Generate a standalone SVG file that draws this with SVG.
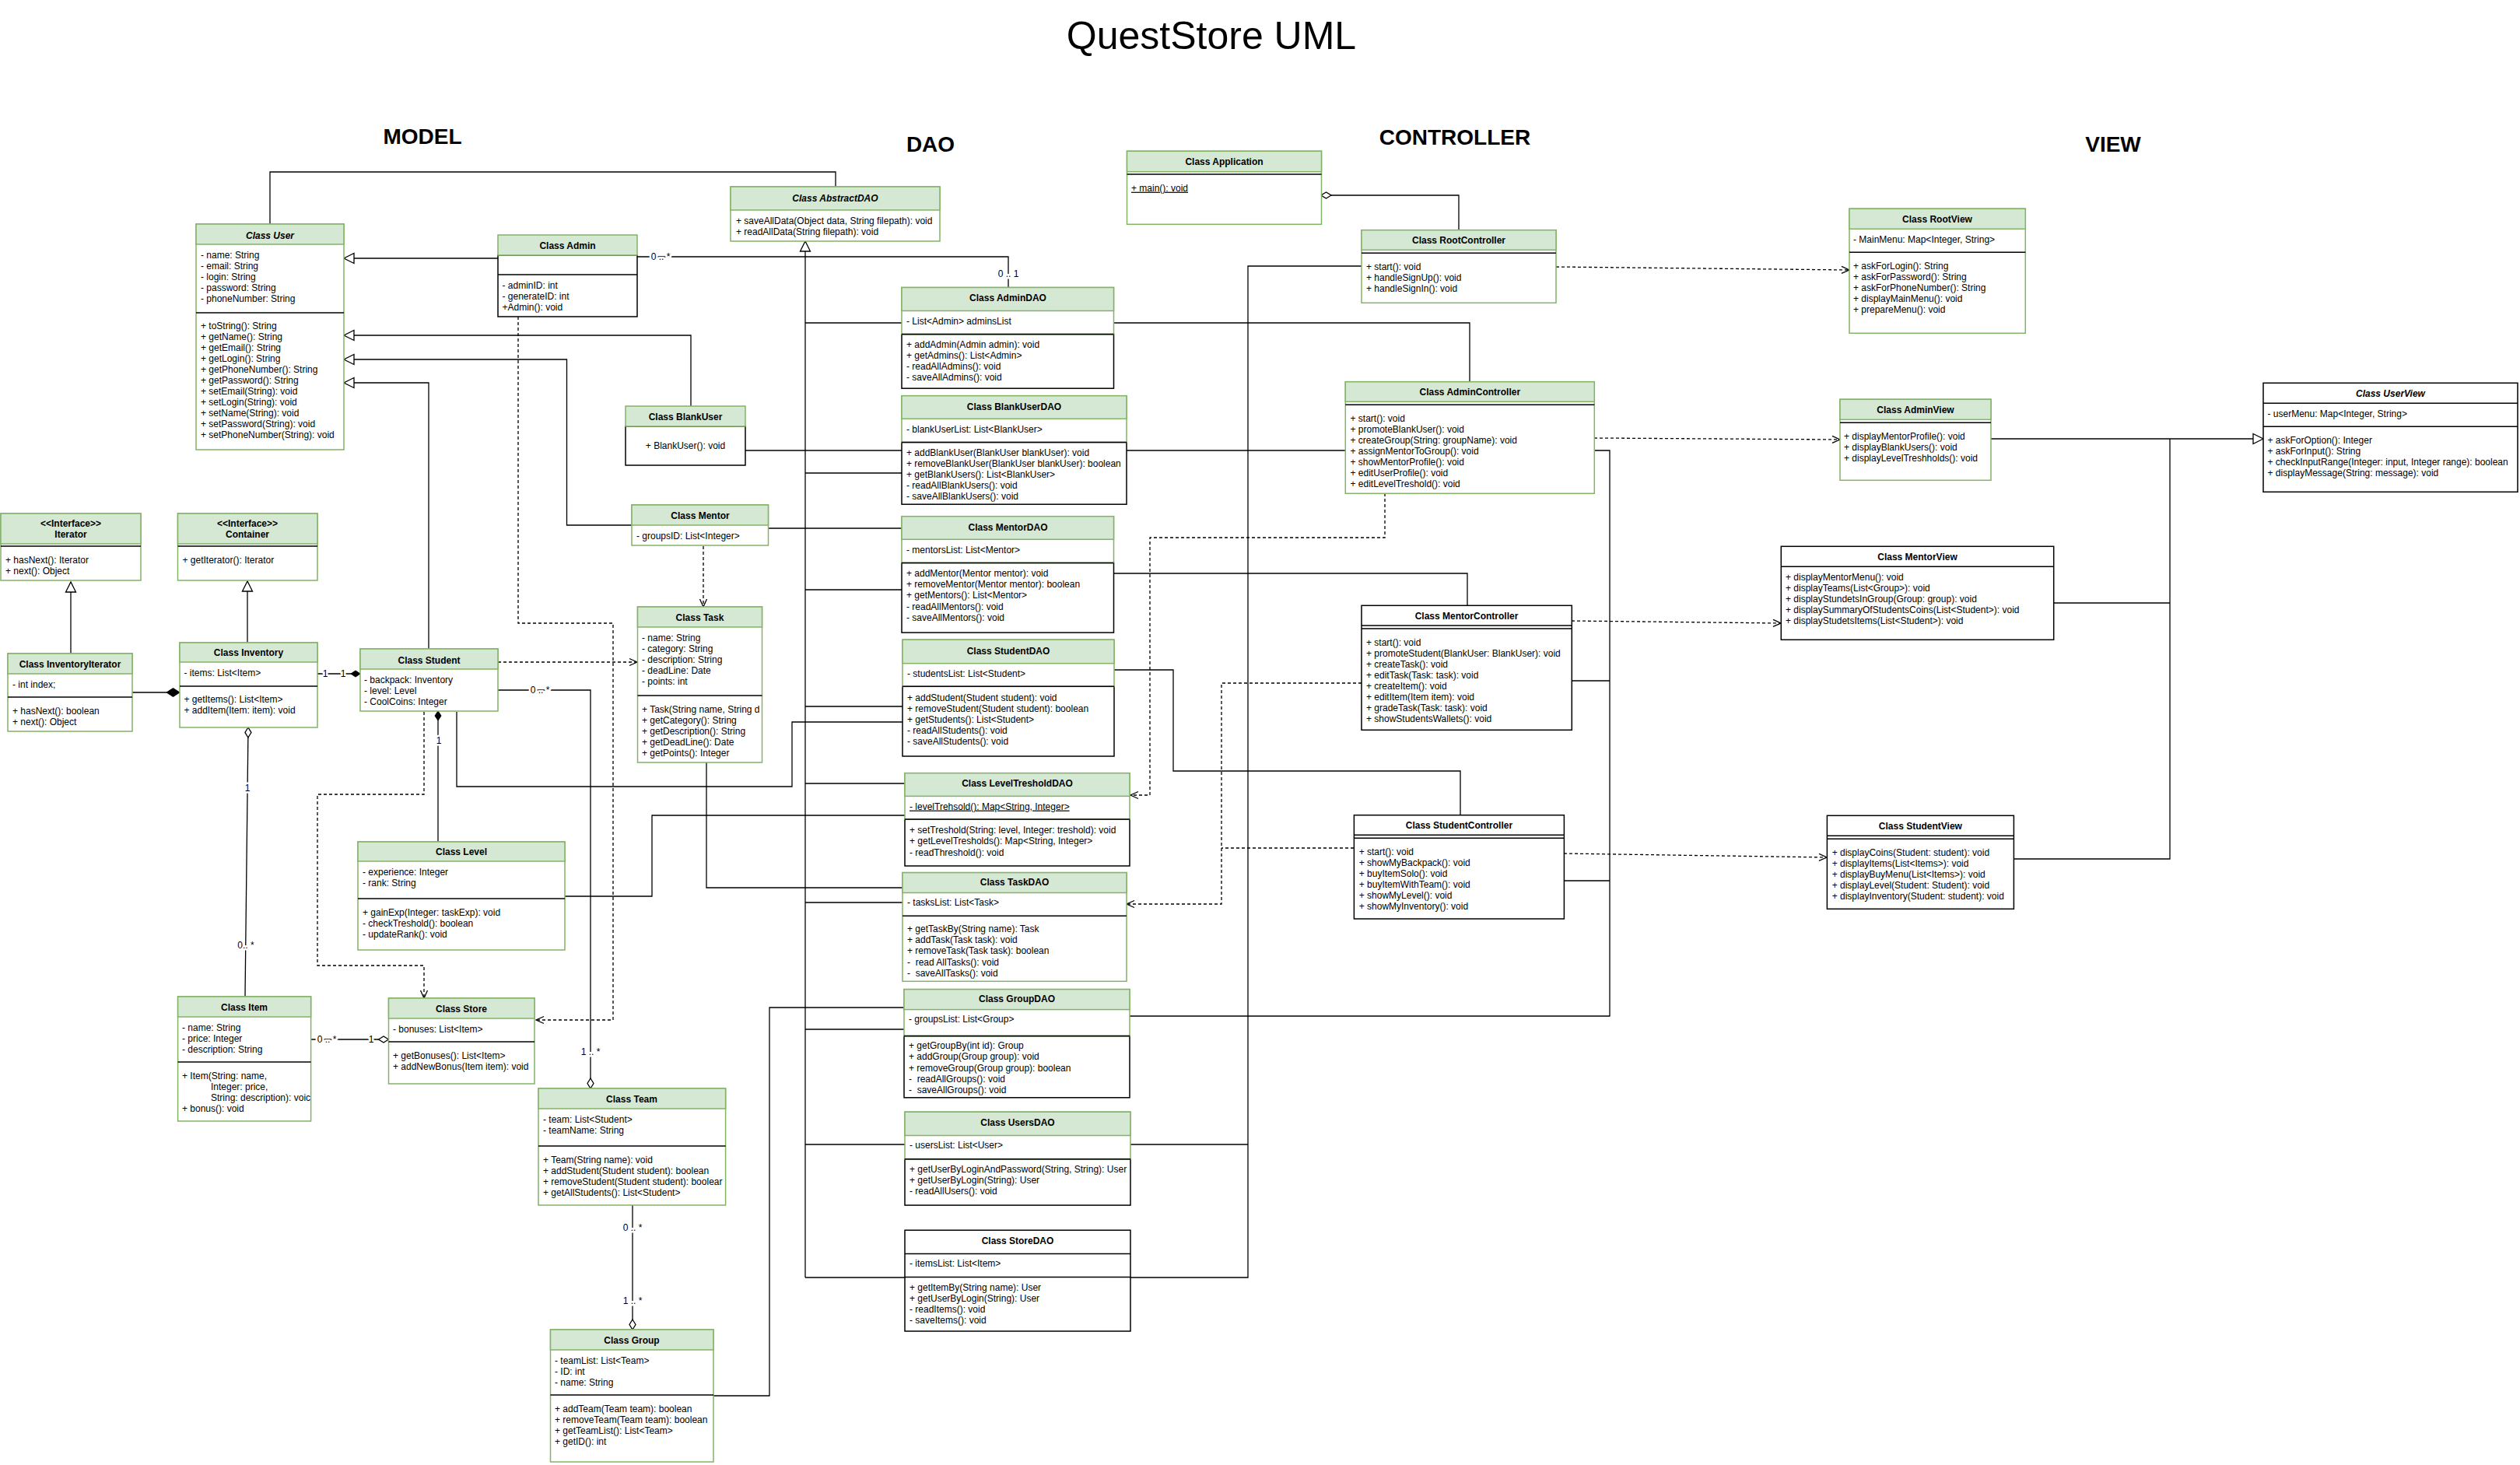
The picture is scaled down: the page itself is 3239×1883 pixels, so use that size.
<svg xmlns="http://www.w3.org/2000/svg" width="3239" height="1883" viewBox="0 0 3239 1883">
<style>
.h{fill:#d5e8d4;stroke:#82b366;stroke-width:1.5}
.g{fill:#fff;stroke:#82b366;stroke-width:1.5}
.k{fill:#fff;stroke:#000;stroke-width:1.5}
.d{stroke:#000;stroke-width:1.5}
text{font-family:"Liberation Sans",Arial,sans-serif;font-size:12px;fill:#000}
.t{font-weight:bold;text-anchor:middle}
.ti{font-weight:bold;font-style:italic;text-anchor:middle}
.c{text-anchor:middle}
.u{text-decoration:underline}
.e{fill:none;stroke:#000;stroke-width:1.3}
.dh{stroke-dasharray:4 3}
.l{text-anchor:middle;stroke:#fff;stroke-width:5;paint-order:stroke;stroke-linejoin:round}
.sec{font-size:28px;font-weight:bold;text-anchor:middle}
</style>
<defs>
<marker id="tri" markerUnits="userSpaceOnUse" markerWidth="16" markerHeight="16" viewBox="0 -8 16 16" refX="14" refY="0" orient="auto-start-reverse"><path d="M1,-6.5 L14,0 L1,6.5 z" fill="#fff" stroke="#000" stroke-width="1.3"/></marker>
<marker id="arr" markerUnits="userSpaceOnUse" markerWidth="12" markerHeight="12" viewBox="0 -6 12 12" refX="11" refY="0" orient="auto-start-reverse"><path d="M1,-4.5 L11,0 L1,4.5" fill="none" stroke="#000" stroke-width="1.3"/></marker>
<marker id="dF" markerUnits="userSpaceOnUse" markerWidth="19" markerHeight="14" viewBox="0 -7 19 14" refX="18" refY="0" orient="auto-start-reverse"><path d="M1,0 L9.5,-5.5 L18,0 L9.5,5.5 z" fill="#000" stroke="#000" stroke-width="1"/></marker>
<marker id="dFs" markerUnits="userSpaceOnUse" markerWidth="14" markerHeight="12" viewBox="0 -6 14 12" refX="13" refY="0" orient="auto-start-reverse"><path d="M1,0 L7,-4 L13,0 L7,4 z" fill="#000" stroke="#000" stroke-width="1"/></marker>
<marker id="dO" markerUnits="userSpaceOnUse" markerWidth="15" markerHeight="12" viewBox="0 -6 15 12" refX="14" refY="0" orient="auto-start-reverse"><path d="M1,0 L7.5,-4 L14,0 L7.5,4 z" fill="#fff" stroke="#000" stroke-width="1.3"/></marker>
</defs>
<rect x="0" y="0" width="3239" height="1883" fill="#fff"/>

<g id="titles">
<text x="1557" y="63" style="font-size:50px;text-anchor:middle">QuestStore UML</text>
<text class="sec" x="543" y="185">MODEL</text>
<text class="sec" x="1196" y="195">DAO</text>
<text class="sec" x="1870" y="186">CONTROLLER</text>
<text class="sec" x="2716" y="195">VIEW</text>
</g>

<g id="connectors">
<path class="e" d="M347,288 V221 H1074 V240"/>
<path class="e" d="M640,332 H442" marker-end="url(#tri)"/>
<path class="e" d="M819,330 H1296 V369.5"/>
<path class="e" d="M888,522 V431 H442" marker-end="url(#tri)"/>
<path class="e" d="M812,675 H728.5 V462 H442" marker-end="url(#tri)"/>
<path class="e" d="M551,834 V492 H442" marker-end="url(#tri)"/>
<path class="e" d="M91,840 V748" marker-end="url(#tri)"/>
<path class="e" d="M318,826 V747" marker-end="url(#tri)"/>
<path class="e" d="M170,890 H231" marker-end="url(#dF)"/>
<path class="e" d="M408,866 H463" marker-end="url(#dFs)"/>
<path class="e" d="M319,935 L315,1281" marker-start="url(#dO)"/>
<path class="e" d="M563,914 V1082" marker-start="url(#dFs)"/>
<path class="e dh" d="M640,851 H819" marker-end="url(#arr)"/>
<path class="e dh" d="M666,407 V801 H788 V1311 H689" marker-end="url(#arr)"/>
<path class="e dh" d="M904,702 V780" marker-end="url(#arr)"/>
<path class="e dh" d="M545,915 V1021 H408 V1241 H545 V1283" marker-end="url(#arr)"/>
<path class="e" d="M640,887 H759 V1399" marker-end="url(#dO)"/>
<path class="e" d="M587,915 V1011 H1018 V928 H1160"/>
<path class="e" d="M726,1152 H838 V1048 H1163"/>
<path class="e" d="M908,980 V1141 H1160"/>
<path class="e" d="M917,1794 H989 V1295 H1162"/>
<path class="e" d="M813,1549 V1709" marker-end="url(#dO)"/>
<path class="e" d="M400,1336 H499.5" marker-end="url(#dO)"/>
<path class="e" d="M1035,1642 V310" marker-end="url(#tri)"/>
<path class="e" d="M1035,1642 H1163 M1035,415 H1159 M1035,608 H1159 M1035,758 H1159 M1035,908 H1160 M1035,1007 H1163 M1035,1160 H1160 M1035,1323 H1162 M1035,1471 H1163"/>
<path class="e" d="M958,579 H1159"/>
<path class="e" d="M988,679 H1159"/>
<path class="e" d="M1432,415 H1889 V491"/>
<path class="e" d="M1448,579 H1729"/>
<path class="e" d="M1432,737 H1886 V778"/>
<path class="e" d="M1432,861 H1508 V991 H1877 V1048"/>
<path class="e" d="M1453,1642 H1604 V342 H1750"/>
<path class="e" d="M1453,1471 H1604"/>
<path class="e dh" d="M1780,634 V691 H1478 V1022 H1453" marker-end="url(#arr)"/>
<path class="e dh" d="M1750,878 H1570 V1162 H1448" marker-end="url(#arr)"/>
<path class="e dh" d="M1740,1090 H1570"/>
<path class="e" d="M1698,251 H1875 V296" marker-start="url(#dO)"/>
<path class="e dh" d="M2000,343 L2377,347" marker-end="url(#arr)"/>
<path class="e dh" d="M2049,563 L2365,565" marker-end="url(#arr)"/>
<path class="e dh" d="M2020,798 L2289,801" marker-end="url(#arr)"/>
<path class="e dh" d="M2010,1097 L2348,1102" marker-end="url(#arr)"/>
<path class="e" d="M2049,579 H2069 V1306 H1452 M2020,875 H2069 M2010,1132 H2069"/>
<path class="e" d="M2559,564 H2909" marker-end="url(#tri)"/>
<path class="e" d="M2640,775 H2789 M2588,1104 H2789 V564"/>
<text class="l" x="849" y="334">0 .. *</text>
<text class="l" x="1296" y="356">0 .. 1</text>
<text class="l" x="418" y="870">1</text>
<text class="l" x="441" y="870">1</text>
<text class="l" x="318" y="1017">1</text>
<text class="l" x="316" y="1219">0.. *</text>
<text class="l" x="564" y="956">1</text>
<text class="l" x="694" y="891">0 .. *</text>
<text class="l" x="759" y="1356">1 .. *</text>
<text class="l" x="813" y="1582">0 .. *</text>
<text class="l" x="813" y="1676">1 .. *</text>
<text class="l" x="420" y="1340">0 .. *</text>
<text class="l" x="477" y="1340">1</text>
</g>

<g id="user">
<rect class="g" x="252" y="288" width="190" height="290"/>
<rect class="h" x="252" y="288" width="190" height="26"/>
<text class="ti" x="347" y="307">Class User</text>
<line class="d" x1="252" y1="402" x2="442" y2="402"/>
<text x="258" y="332"><tspan x="258">- name: String</tspan><tspan x="258" dy="14">- email: String</tspan><tspan x="258" dy="14">- login: String</tspan><tspan x="258" dy="14">- password: String</tspan><tspan x="258" dy="14">- phoneNumber: String</tspan></text>
<text x="258" y="423"><tspan x="258">+ toString(): String</tspan><tspan x="258" dy="14">+ getName(): String</tspan><tspan x="258" dy="14">+ getEmail(): String</tspan><tspan x="258" dy="14">+ getLogin(): String</tspan><tspan x="258" dy="14">+ getPhoneNumber(): String</tspan><tspan x="258" dy="14">+ getPassword(): String</tspan><tspan x="258" dy="14">+ setEmail(String): void</tspan><tspan x="258" dy="14">+ setLogin(String): void</tspan><tspan x="258" dy="14">+ setName(String): void</tspan><tspan x="258" dy="14">+ setPassword(String): void</tspan><tspan x="258" dy="14">+ setPhoneNumber(String): void</tspan></text>
</g>

<g id="admin">
<rect class="k" x="640" y="328" width="179" height="79"/>
<rect class="h" x="640" y="302" width="179" height="26"/>
<text class="t" x="729.5" y="320">Class Admin</text>
<line class="d" x1="640" y1="353" x2="819" y2="353"/>
<text x="645.5" y="371"><tspan x="645.5">- adminID: int</tspan><tspan x="645.5" dy="14">- generateID: int</tspan><tspan x="645.5" dy="14">+Admin(): void</tspan></text>
</g>

<g id="abstractdao">
<rect class="g" x="939" y="240" width="269" height="70"/>
<rect class="h" x="939" y="240" width="269" height="30"/>
<text class="ti" x="1073.5" y="259">Class AbstractDAO</text>
<text x="946" y="288"><tspan x="946">+ saveAllData(Object data, String filepath): void</tspan><tspan x="946" dy="14">+ readAllData(String filepath): void</tspan></text>
</g>

<g id="blankuser">
<rect class="k" x="804" y="548" width="154" height="50"/>
<rect class="h" x="804" y="522" width="154" height="26"/>
<text class="t" x="881" y="540">Class BlankUser</text>
<text class="c" x="881" y="577">+ BlankUser(): void</text>
</g>

<g id="iterator">
<rect class="g" x="1" y="660" width="180" height="86"/>
<rect class="h" x="1" y="660" width="180" height="39"/>
<text class="t" x="91" y="677"><tspan x="91">&lt;&lt;Interface&gt;&gt;</tspan><tspan x="91" dy="14">Iterator</tspan></text>
<line class="d" x1="1" y1="702" x2="181" y2="702"/>
<text x="7" y="724"><tspan x="7">+ hasNext(): Iterator</tspan><tspan x="7" dy="14">+ next(): Object</tspan></text>
</g>

<g id="container">
<rect class="g" x="228.5" y="660" width="179.5" height="86"/>
<rect class="h" x="228.5" y="660" width="179.5" height="39"/>
<text class="t" x="318" y="677"><tspan x="318">&lt;&lt;Interface&gt;&gt;</tspan><tspan x="318" dy="14">Container</tspan></text>
<line class="d" x1="228.5" y1="702" x2="408" y2="702"/>
<text x="234.5" y="724">+ getIterator(): Iterator</text>
</g>

<g id="inventoryiterator">
<rect class="g" x="10" y="840" width="160" height="100"/>
<rect class="h" x="10" y="840" width="160" height="26"/>
<text class="t" x="90" y="858">Class InventoryIterator</text>
<text x="16" y="884">- int index;</text>
<line class="d" x1="10" y1="896" x2="170" y2="896"/>
<text x="16" y="918"><tspan x="16">+ hasNext(): boolean</tspan><tspan x="16" dy="14">+ next(): Object</tspan></text>
</g>

<g id="inventory">
<rect class="g" x="231" y="826" width="177" height="109"/>
<rect class="h" x="231" y="826" width="177" height="25"/>
<text class="t" x="319.5" y="843">Class Inventory</text>
<text x="236.5" y="869">- items: List&lt;Item&gt;</text>
<line class="d" x1="231" y1="882" x2="408" y2="882"/>
<text x="236.5" y="903"><tspan x="236.5">+ getItems(): List&lt;Item&gt;</tspan><tspan x="236.5" dy="14">+ addItem(Item: item): void</tspan></text>
</g>

<g id="student">
<rect class="g" x="463" y="834" width="177" height="80"/>
<rect class="h" x="463" y="834" width="177" height="26"/>
<text class="t" x="551.5" y="853">Class Student</text>
<text x="468" y="878"><tspan x="468">- backpack: Inventory</tspan><tspan x="468" dy="14">- level: Level</tspan><tspan x="468" dy="14">- CoolCoins: Integer</tspan></text>
</g>

<g id="mentor">
<rect class="g" x="812" y="649" width="175.5" height="52"/>
<rect class="h" x="812" y="649" width="175.5" height="26"/>
<text class="t" x="900" y="667">Class Mentor</text>
<text x="818" y="693">- groupsID: List&lt;Integer&gt;</text>
</g>

<g id="task">
<rect class="g" x="819.5" y="780" width="160" height="200"/>
<rect class="h" x="819.5" y="780" width="160" height="26"/>
<text class="t" x="899.5" y="798">Class Task</text>
<text x="825" y="824"><tspan x="825">- name: String</tspan><tspan x="825" dy="14">- category: String</tspan><tspan x="825" dy="14">- description: String</tspan><tspan x="825" dy="14">- deadLine: Date</tspan><tspan x="825" dy="14">- points: int</tspan></text>
<line class="d" x1="819.5" y1="894" x2="979.5" y2="894"/>
<text x="825" y="916"><tspan x="825">+ Task(String name, String d</tspan><tspan x="825" dy="14">+ getCategory(): String</tspan><tspan x="825" dy="14">+ getDescription(): String</tspan><tspan x="825" dy="14">+ getDeadLine(): Date</tspan><tspan x="825" dy="14">+ getPoints(): Integer</tspan></text>
</g>

<g id="level">
<rect class="g" x="460" y="1082" width="266" height="139"/>
<rect class="h" x="460" y="1082" width="266" height="25"/>
<text class="t" x="593" y="1099">Class Level</text>
<text x="466" y="1125"><tspan x="466">- experience: Integer</tspan><tspan x="466" dy="14">- rank: String</tspan></text>
<line class="d" x1="460" y1="1155" x2="726" y2="1155"/>
<text x="466" y="1177"><tspan x="466">+ gainExp(Integer: taskExp): void</tspan><tspan x="466" dy="14">- checkTreshold(): boolean</tspan><tspan x="466" dy="14">- updateRank(): void</tspan></text>
</g>

<g id="item">
<rect class="g" x="228.6" y="1281" width="171" height="160"/>
<rect class="h" x="228.6" y="1281" width="171" height="26"/>
<text class="t" x="314" y="1299">Class Item</text>
<text x="234" y="1325"><tspan x="234">- name: String</tspan><tspan x="234" dy="14">- price: Integer</tspan><tspan x="234" dy="14">- description: String</tspan></text>
<line class="d" x1="228.6" y1="1365" x2="399.6" y2="1365"/>
<text x="234" y="1387"><tspan x="234">+ Item(String: name,</tspan><tspan x="271" dy="14">Integer: price,</tspan><tspan x="271" dy="14">String: description): voic</tspan><tspan x="234" dy="14">+ bonus(): void</tspan></text>
</g>

<g id="store">
<rect class="g" x="499.5" y="1283" width="187.5" height="110"/>
<rect class="h" x="499.5" y="1283" width="187.5" height="26"/>
<text class="t" x="593" y="1301">Class Store</text>
<text x="505" y="1327">- bonuses: List&lt;Item&gt;</text>
<line class="d" x1="499.5" y1="1339" x2="687" y2="1339"/>
<text x="505" y="1361"><tspan x="505">+ getBonuses(): List&lt;Item&gt;</tspan><tspan x="505" dy="14">+ addNewBonus(Item item): void</tspan></text>
</g>

<g id="team">
<rect class="g" x="692" y="1399" width="240.6" height="150"/>
<rect class="h" x="692" y="1399" width="240.6" height="26"/>
<text class="t" x="812" y="1417">Class Team</text>
<text x="698" y="1443"><tspan x="698">- team: List&lt;Student&gt;</tspan><tspan x="698" dy="14">- teamName: String</tspan></text>
<line class="d" x1="692" y1="1473" x2="932.6" y2="1473"/>
<text x="698" y="1495"><tspan x="698">+ Team(String name): void</tspan><tspan x="698" dy="14">+ addStudent(Student student): boolean</tspan><tspan x="698" dy="14">+ removeStudent(Student student): boolear</tspan><tspan x="698" dy="14">+ getAllStudents(): List&lt;Student&gt;</tspan></text>
</g>

<g id="group">
<rect class="g" x="707.5" y="1709" width="209.5" height="170"/>
<rect class="h" x="707.5" y="1709" width="209.5" height="26"/>
<text class="t" x="812" y="1727">Class Group</text>
<text x="713" y="1753"><tspan x="713">- teamList: List&lt;Team&gt;</tspan><tspan x="713" dy="14">- ID: int</tspan><tspan x="713" dy="14">- name: String</tspan></text>
<line class="d" x1="707.5" y1="1793" x2="917" y2="1793"/>
<text x="713" y="1815"><tspan x="713">+ addTeam(Team team): boolean</tspan><tspan x="713" dy="14">+ removeTeam(Team team): boolean</tspan><tspan x="713" dy="14">+ getTeamList(): List&lt;Team&gt;</tspan><tspan x="713" dy="14">+ getID(): int</tspan></text>
</g>

<g id="admindao">
<rect class="k" x="1159" y="429.6" width="272.5" height="69.6"/>
<rect class="g" x="1159" y="369.5" width="272.5" height="60.1"/>
<rect class="h" x="1159" y="369.5" width="272.5" height="30"/>
<line class="d" x1="1159" y1="429.6" x2="1431.5" y2="429.6"/>
<text class="t" x="1295.5" y="387">Class AdminDAO</text>
<text x="1165" y="416.6">- List&lt;Admin&gt; adminsList</text>
<text x="1165" y="447.4"><tspan x="1165">+ addAdmin(Admin admin): void</tspan><tspan x="1165" dy="14">+ getAdmins(): List&lt;Admin&gt;</tspan><tspan x="1165" dy="14">- readAllAdmins(): void</tspan><tspan x="1165" dy="14">- saveAllAdmins(): void</tspan></text>
</g>

<g id="blankuserdao">
<rect class="k" x="1159" y="568.4" width="289" height="79.8"/>
<rect class="g" x="1159" y="508.7" width="289" height="59.7"/>
<rect class="h" x="1159" y="508.7" width="289" height="29.6"/>
<line class="d" x1="1159" y1="568.4" x2="1448" y2="568.4"/>
<text class="t" x="1303.5" y="526.5">Class BlankUserDAO</text>
<text x="1165" y="555.8">- blankUserList: List&lt;BlankUser&gt;</text>
<text x="1165" y="586.2"><tspan x="1165">+ addBlankUser(BlankUser blankUser): void</tspan><tspan x="1165" dy="14">+ removeBlankUser(BlankUser blankUser): boolean</tspan><tspan x="1165" dy="14">+ getBlankUsers(): List&lt;BlankUser&gt;</tspan><tspan x="1165" dy="14">- readAllBlankUsers(): void</tspan><tspan x="1165" dy="14">- saveAllBlankUsers(): void</tspan></text>
</g>

<g id="mentordao">
<rect class="k" x="1159" y="723.4" width="272.5" height="89.7"/>
<rect class="g" x="1159" y="663.7" width="272.5" height="59.7"/>
<rect class="h" x="1159" y="663.7" width="272.5" height="29.6"/>
<line class="d" x1="1159" y1="723.4" x2="1431.5" y2="723.4"/>
<text class="t" x="1295.5" y="681.5">Class MentorDAO</text>
<text x="1165" y="710.8">- mentorsList: List&lt;Mentor&gt;</text>
<text x="1165" y="741.2"><tspan x="1165">+ addMentor(Mentor mentor): void</tspan><tspan x="1165" dy="14.1">+ removeMentor(Mentor mentor): boolean</tspan><tspan x="1165" dy="14.1">+ getMentors(): List&lt;Mentor&gt;</tspan><tspan x="1165" dy="14.1">- readAllMentors(): void</tspan><tspan x="1165" dy="14.1">- saveAllMentors(): void</tspan></text>
</g>

<g id="studentdao">
<rect class="k" x="1160" y="882.3" width="272" height="89.7"/>
<rect class="g" x="1160" y="822.2" width="272" height="60.1"/>
<rect class="h" x="1160" y="822.2" width="272" height="30.5"/>
<line class="d" x1="1160" y1="882.3" x2="1432" y2="882.3"/>
<text class="t" x="1296" y="840.5">Class StudentDAO</text>
<text x="1166" y="869.7">- studentsList: List&lt;Student&gt;</text>
<text x="1166" y="900.6"><tspan x="1166">+ addStudent(Student student): void</tspan><tspan x="1166" dy="14">+ removeStudent(Student student): boolean</tspan><tspan x="1166" dy="14">+ getStudents(): List&lt;Student&gt;</tspan><tspan x="1166" dy="14">- readAllStudents(): void</tspan><tspan x="1166" dy="14">- saveAllStudents(): void</tspan></text>
</g>

<g id="leveltresholddao">
<rect class="k" x="1163" y="1053.1" width="289" height="59.9"/>
<rect class="g" x="1163" y="993.7" width="289" height="59.4"/>
<rect class="h" x="1163" y="993.7" width="289" height="29.7"/>
<line class="d" x1="1163" y1="1053.1" x2="1452" y2="1053.1"/>
<text class="t" x="1307.5" y="1011.4">Class LevelTresholdDAO</text>
<text class="u" x="1169" y="1040.6">- levelTrehsold(): Map&lt;String, Integer&gt;</text>
<text x="1169" y="1071.3"><tspan x="1169">+ setTreshold(String: level, Integer: treshold): void</tspan><tspan x="1169" dy="14.1">+ getLevelTresholds(): Map&lt;String, Integer&gt;</tspan><tspan x="1169" dy="14.1">- readThreshold(): void</tspan></text>
</g>

<g id="taskdao">
<rect class="g" x="1160" y="1121.6" width="288" height="139.7"/>
<rect class="h" x="1160" y="1121.6" width="288" height="25.9"/>
<line class="d" x1="1160" y1="1177.3" x2="1448" y2="1177.3"/>
<text class="t" x="1304" y="1138.3">Class TaskDAO</text>
<text x="1166" y="1164.3">- tasksList: List&lt;Task&gt;</text>
<text x="1166" y="1198.2"><tspan x="1166">+ getTaskBy(String name): Task</tspan><tspan x="1166" dy="14.1">+ addTask(Task task): void</tspan><tspan x="1166" dy="14.1">+ removeTask(Task task): boolean</tspan><tspan x="1166" dy="14.1" xml:space="preserve">-  read AllTasks(): void</tspan><tspan x="1166" dy="14.1" xml:space="preserve">-  saveAllTasks(): void</tspan></text>
</g>

<g id="groupdao">
<rect class="k" x="1162" y="1331.6" width="290" height="79.2"/>
<rect class="g" x="1162" y="1271.6" width="290" height="60"/>
<rect class="h" x="1162" y="1271.6" width="290" height="26"/>
<line class="d" x1="1162" y1="1331.6" x2="1452" y2="1331.6"/>
<text class="t" x="1307" y="1288.4">Class GroupDAO</text>
<text x="1168" y="1314.3">- groupsList: List&lt;Group&gt;</text>
<text x="1168" y="1348.3"><tspan x="1168">+ getGroupBy(int id): Group</tspan><tspan x="1168" dy="14.1">+ addGroup(Group group): void</tspan><tspan x="1168" dy="14.1">+ removeGroup(Group group): boolean</tspan><tspan x="1168" dy="14.1" xml:space="preserve">-  readAllGroups(): void</tspan><tspan x="1168" dy="14.1" xml:space="preserve">-  saveAllGroups(): void</tspan></text>
</g>

<g id="usersdao">
<rect class="k" x="1163" y="1489.7" width="290" height="59.4"/>
<rect class="g" x="1163" y="1429.2" width="290" height="60.5"/>
<rect class="h" x="1163" y="1429.2" width="290" height="30.3"/>
<line class="d" x1="1163" y1="1489.7" x2="1453" y2="1489.7"/>
<text class="t" x="1308" y="1447.4">Class UsersDAO</text>
<text x="1169" y="1476.2">- usersList: List&lt;User&gt;</text>
<text x="1169" y="1507.3"><tspan x="1169">+ getUserByLoginAndPassword(String, String): User</tspan><tspan x="1169" dy="14">+ getUserByLogin(String): User</tspan><tspan x="1169" dy="14">- readAllUsers(): void</tspan></text>
</g>

<g id="storedao">
<rect class="k" x="1163" y="1581.2" width="290" height="129.8"/>
<line class="d" x1="1163" y1="1611.4" x2="1453" y2="1611.4"/>
<line class="d" x1="1163" y1="1641.6" x2="1453" y2="1641.6"/>
<text class="t" x="1308" y="1599.4">Class StoreDAO</text>
<text x="1169" y="1628.1">- itemsList: List&lt;Item&gt;</text>
<text x="1169" y="1659.3"><tspan x="1169">+ getItemBy(String name): User</tspan><tspan x="1169" dy="14">+ getUserByLogin(String): User</tspan><tspan x="1169" dy="14">- readItems(): void</tspan><tspan x="1169" dy="14">- saveItems(): void</tspan></text>
</g>

<g id="application">
<rect class="g" x="1448.5" y="194.3" width="250" height="94"/>
<rect class="h" x="1448.5" y="194.3" width="250" height="26.4"/>
<line class="d" x1="1448.5" y1="224" x2="1698.5" y2="224"/>
<text class="t" x="1573.5" y="211.7">Class Application</text>
<text class="u" x="1454" y="245.7">+ main(): void</text>
</g>

<g id="rootcontroller">
<rect class="g" x="1750" y="295.7" width="250" height="93.6"/>
<rect class="h" x="1750" y="295.7" width="250" height="25.6"/>
<line class="d" x1="1750" y1="325.3" x2="2000" y2="325.3"/>
<text class="t" x="1875" y="312.7">Class RootController</text>
<text x="1756" y="346.7"><tspan x="1756">+ start(): void</tspan><tspan x="1756" dy="14">+ handleSignUp(): void</tspan><tspan x="1756" dy="14">+ handleSignIn(): void</tspan></text>
</g>

<g id="admincontroller">
<rect class="g" x="1729.3" y="490.7" width="320" height="143.6"/>
<rect class="h" x="1729.3" y="490.7" width="320" height="25.6"/>
<line class="d" x1="1729.3" y1="520.3" x2="2049.3" y2="520.3"/>
<text class="t" x="1889.3" y="507.7">Class AdminController</text>
<text x="1735.5" y="541.7"><tspan x="1735.5">+ start(): void</tspan><tspan x="1735.5" dy="14">+ promoteBlankUser(): void</tspan><tspan x="1735.5" dy="14">+ createGroup(String: groupName): void</tspan><tspan x="1735.5" dy="14">+ assignMentorToGroup(): void</tspan><tspan x="1735.5" dy="14">+ showMentorProfile(): void</tspan><tspan x="1735.5" dy="14">+ editUserProfile(): void</tspan><tspan x="1735.5" dy="14">+ editLevelTreshold(): void</tspan></text>
</g>

<g id="mentorcontroller">
<rect class="k" x="1750" y="778.3" width="270.3" height="160"/>
<line class="d" x1="1750" y1="804" x2="2020.3" y2="804"/>
<line class="d" x1="1750" y1="808" x2="2020.3" y2="808"/>
<text class="t" x="1885" y="796">Class MentorController</text>
<text x="1756" y="829.7"><tspan x="1756">+ start(): void</tspan><tspan x="1756" dy="14">+ promoteStudent(BlankUser: BlankUser): void</tspan><tspan x="1756" dy="14">+ createTask(): void</tspan><tspan x="1756" dy="14">+ editTask(Task: task): void</tspan><tspan x="1756" dy="14">+ createItem(): void</tspan><tspan x="1756" dy="14">+ editItem(Item item): void</tspan><tspan x="1756" dy="14">+ gradeTask(Task: task): void</tspan><tspan x="1756" dy="14">+ showStudentsWallets(): void</tspan></text>
</g>

<g id="studentcontroller">
<rect class="k" x="1740.4" y="1047.7" width="270" height="133.3"/>
<line class="d" x1="1740.4" y1="1073.3" x2="2010.4" y2="1073.3"/>
<line class="d" x1="1740.4" y1="1077.3" x2="2010.4" y2="1077.3"/>
<text class="t" x="1875.4" y="1064.7">Class StudentController</text>
<text x="1746.7" y="1098.7"><tspan x="1746.7">+ start(): void</tspan><tspan x="1746.7" dy="14">+ showMyBackpack(): void</tspan><tspan x="1746.7" dy="14">+ buyItemSolo(): void</tspan><tspan x="1746.7" dy="14">+ buyItemWithTeam(): void</tspan><tspan x="1746.7" dy="14">+ showMyLevel(): void</tspan><tspan x="1746.7" dy="14">+ showMyInventory(): void</tspan></text>
</g>

<g id="rootview">
<rect class="g" x="2377" y="268.3" width="226.3" height="160"/>
<rect class="h" x="2377" y="268.3" width="226.3" height="26"/>
<text class="t" x="2490" y="285.7">Class RootView</text>
<text x="2382" y="311.7">- MainMenu: Map&lt;Integer, String&gt;</text>
<line class="d" x1="2377" y1="324.3" x2="2603.3" y2="324.3"/>
<text x="2382" y="346"><tspan x="2382">+ askForLogin(): String</tspan><tspan x="2382" dy="14">+ askForPassword(): String</tspan><tspan x="2382" dy="14">+ askForPhoneNumber(): String</tspan><tspan x="2382" dy="14">+ displayMainMenu(): void</tspan><tspan x="2382" dy="14">+ prepareMenu(): void</tspan></text>
</g>

<g id="adminview">
<rect class="g" x="2365" y="513.3" width="194" height="104"/>
<rect class="h" x="2365" y="513.3" width="194" height="26"/>
<line class="d" x1="2365" y1="543.3" x2="2559" y2="543.3"/>
<text class="t" x="2462" y="530.7">Class AdminView</text>
<text x="2370" y="564.7"><tspan x="2370">+ displayMentorProfile(): void</tspan><tspan x="2370" dy="14.2">+ displayBlankUsers(): void</tspan><tspan x="2370" dy="14.2">+ displayLevelTreshholds(): void</tspan></text>
</g>

<g id="userview">
<rect class="k" x="2909" y="492.3" width="327" height="140"/>
<line class="d" x1="2909" y1="518.3" x2="3236" y2="518.3"/>
<line class="d" x1="2909" y1="548.3" x2="3236" y2="548.3"/>
<text class="ti" x="3072.5" y="509.7">Class UserView</text>
<text x="2914.5" y="535.7">- userMenu: Map&lt;Integer, String&gt;</text>
<text x="2914.5" y="569.7"><tspan x="2914.5">+ askForOption(): Integer</tspan><tspan x="2914.5" dy="14">+ askForInput(): String</tspan><tspan x="2914.5" dy="14">+ checkInputRange(Integer: input, Integer range): boolean</tspan><tspan x="2914.5" dy="14">+ displayMessage(String: message): void</tspan></text>
</g>

<g id="mentorview">
<rect class="k" x="2289.3" y="702.3" width="350.4" height="120"/>
<line class="d" x1="2289.3" y1="728.3" x2="2639.7" y2="728.3"/>
<text class="t" x="2464.5" y="719.7">Class MentorView</text>
<text x="2295" y="745.7"><tspan x="2295">+ displayMentorMenu(): void</tspan><tspan x="2295" dy="14">+ displayTeams(List&lt;Group&gt;): void</tspan><tspan x="2295" dy="14">+ displayStundetsInGroup(Group: group): void</tspan><tspan x="2295" dy="14">+ displaySummaryOfStudentsCoins(List&lt;Student&gt;): void</tspan><tspan x="2295" dy="14">+ displayStudetsItems(List&lt;Student&gt;): void</tspan></text>
</g>

<g id="studentview">
<rect class="k" x="2348.4" y="1048.3" width="240" height="120"/>
<line class="d" x1="2348.4" y1="1074.3" x2="2588.4" y2="1074.3"/>
<line class="d" x1="2348.4" y1="1078.3" x2="2588.4" y2="1078.3"/>
<text class="t" x="2468.4" y="1065.7">Class StudentView</text>
<text x="2354.7" y="1099.7"><tspan x="2354.7">+ displayCoins(Student: student): void</tspan><tspan x="2354.7" dy="14">+ displayItems(List&lt;Items&gt;): void</tspan><tspan x="2354.7" dy="14">+ displayBuyMenu(List&lt;Items&gt;): void</tspan><tspan x="2354.7" dy="14">+ displayLevel(Student: Student): void</tspan><tspan x="2354.7" dy="14">+ displayInventory(Student: student): void</tspan></text>
</g>
</svg>
